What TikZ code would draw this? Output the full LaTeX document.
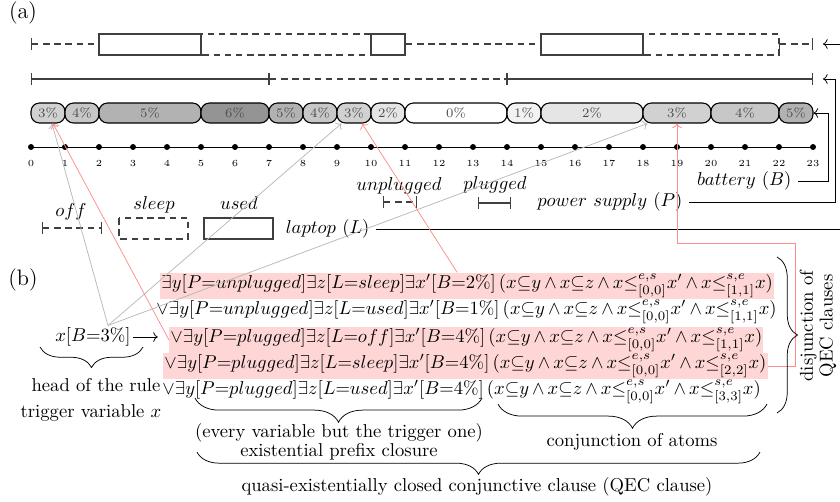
\documentclass[tikz,border=0pt]{standalone}
\usepackage{amsmath}
\usepackage{amssymb}
\usepackage{xcolor}
\usepackage{tikz}
\usetikzlibrary{calc,positioning,arrows.meta,decorations.pathreplacing}

\newcommand{\aand}{\,{\wedge}\,}

\tikzset{
  tl/.style={black!75,semithick},
  offline/.style={tl,dash pattern=on 3.5pt off 2.5pt,{Bar[width=6pt]}-{Bar[width=6pt]}},
  plugline/.style={tl,{Bar[width=6pt]}-{Bar[width=6pt]}},
  unplugline/.style={offline},
  usedbox/.style={tl},
  sleepbox/.style={tl,dash pattern=on 3.5pt off 2.5pt},
  battseg/.style={draw,semithick,rounded corners=4.5pt,minimum height=10.7pt,inner sep=0pt,font=\scriptsize,text=black!70},
  clause/.style={inner sep=0.6pt,anchor=west},
  pinkclause/.style={clause,fill=red!16},
  trigger/.style={->,thin,black!28},
  match/.style={->,thin,red!45},
  feed/.style={->,thin},
  curly/.style={thin,decorate,decoration={brace,amplitude=#1}},
}

\begin{document}
\begin{tikzpicture}[x=0.537pt,y=-0.537pt]
	\useasboundingbox (0,0) rectangle (840,502);
	\node[font=\large] (pa) at (23,13) {(a)};
	\node[font=\large] (pb) at (23,280) {(b)};

	% one day, hour h sits at x = 31 + 34 h
	\begin{scope}[shift={(31,0)},x=18.258pt]
		% laptop (L)
		\draw[sleepbox] (5,34) rectangle (10,55);
		\draw[sleepbox] (18,34) rectangle (22,55);
		\draw[usedbox] (2,34) rectangle (5,55);
		\draw[usedbox] (10,34) rectangle (11,55);
		\draw[usedbox] (15,34) rectangle (18,55);
		\draw[offline] (0,44) -- (2,44);
		\draw[offline] (11,44) -- (15,44);
		\draw[offline] (22,44) -- (23,44);
		% power supply (P)
		\draw[plugline] (0,79) -- (7,79);
		\draw[unplugline] (7,79) -- (14,79);
		\draw[plugline] (14,79) -- (23,79);
		% battery (B)
		\foreach \a/\b/\v/\g [count=\i from 0] in {0/1/3/18,1/2/4/22,2/5/5/30,5/7/6/42,7/8/5/30,8/9/4/22,9/10/3/18,
			10/11/2/10,11/14/0/0,14/15/1/5,15/18/2/10,18/20/3/18,20/22/4/22,22/23/5/30}{
			\pgfmathsetmacro{\w}{(\b-\a)*18.258}
			\node[battseg,fill=black!\g,minimum width=\w pt] (b\i) at ({(\a+\b)/2},113) {\v\%};
		}
		% hours
		\draw (0,147) -- (23,147);
		\foreach \h in {0,...,23}{
			\fill (\h,147) circle (1.6pt);
			\node[font=\tiny] (t\h) at (\h,163) {\h};
		}
	\end{scope}

	% legend
	\draw[offline] (42,228) -- (102,228);
	\node[anchor=base] (loff) at (71,216) {$off$};
	\draw[sleepbox] (119,218) rectangle (188,239);
	\node[anchor=base] (lsleep) at (154,209) {$sleep$};
	\draw[usedbox] (204,218) rectangle (273,239);
	\node[anchor=base] (lused) at (239,209) {$used$};
	\node[anchor=east] (lplbl) at (376,229) {$laptop\ (L)$};
	\draw[unplugline] (383,202) -- (417,202);
	\node (lunpl) at (399,186) {$unplugged$};
	\draw[plugline] (478,203) -- (511,203);
	\node (lpl) at (495,185) {$plugged$};
	\node[anchor=east] (pslbl) at (689,202) {$power\ supply\ (P)$};
	\node[anchor=east] (batlbl) at (798,181) {$battery\ (B)$};

	\coordinate (lend) at (823,44);
	\coordinate (pend) at (823,79);
	\draw[feed] (lplbl.east) -| ($(lend)+(27,0)$) -- (lend);
	\draw[feed] (pslbl.east) -| ($(pend)+(12,0)$) -- (pend);
	\draw[feed] (batlbl.east) -| ($(b13.east)+(15,0)$) -- (b13.east);

	% the rule
	\node[inner sep=1pt] (head) at (93,337) {$x[B{=}3\%]$};
	\node[pinkclause] (c1) at (160,286) {$\exists y[P{=}unplugged]\exists z[L{=}sleep]\exists x'[B{=}2\%]\,(x{\subseteq}y\aand x{\subseteq}z\aand x{\leq}^{e,s}_{[0,0]}x'\aand x{\leq}^{s,e}_{[1,1]}x)$};
	\node[clause] (c2) at (155,312) {${\vee}\exists y[P{=}unplugged]\exists z[L{=}used]\exists x'[B{=}1\%]\,(x{\subseteq}y\aand x{\subseteq}z\aand x{\leq}^{e,s}_{[0,0]}x'\aand x{\leq}^{s,e}_{[1,1]}x)$};
	\node[pinkclause] (c3) at (169,340) {${\vee}\exists y[P{=}plugged]\exists z[L{=}off]\exists x'[B{=}4\%]\,(x{\subseteq}y\aand x{\subseteq}z\aand x{\leq}^{e,s}_{[0,0]}x'\aand x{\leq}^{s,e}_{[1,1]}x)$};
	\node[pinkclause] (c4) at (163,366) {${\vee}\exists y[P{=}plugged]\exists z[L{=}sleep]\exists x'[B{=}4\%]\,(x{\subseteq}y\aand x{\subseteq}z\aand x{\leq}^{e,s}_{[0,0]}x'\aand x{\leq}^{s,e}_{[2,2]}x)$};
	\node[clause] (c5) at (161,392) {${\vee}\exists y[P{=}plugged]\exists z[L{=}used]\exists x'[B{=}4\%]\,(x{\subseteq}y\aand x{\subseteq}z\aand x{\leq}^{e,s}_{[0,0]}x'\aand x{\leq}^{s,e}_{[3,3]}x)$};
	\draw[->,shorten >=6pt] (head.east) -- (head.east -| c3.west);

	% where x, x' and the clauses sit on the day
	\draw[trigger] ($(head.north)+(15,0)$) -- ($(b0.south)+(4,0)$);
	\draw[trigger] ($(head.north)+(15,0)$) -- ($(b6.south west)+(5,0)$);
	\draw[trigger] ($(head.north)+(15,0)$) -- ($(b11.south west)+(5,0)$);
	\draw[match] (c3.west) -- ($(b0.south)+(5,0)$);
	\draw[match] ($(c1.north)+(-10,0)$) -- ($(b6.south)+(8,0)$);
	\coordinate (bend) at (795,243);
	\draw[match] (c4.east) -| (bend) -| (b11.south);

	% braces
	\draw[curly=11pt] (143,347) -- (40,347);
	\node (hd) at (96,385) {head of the rule};
	\node (tv) at (91,413) {trigger variable $x$};
	\draw[curly=13pt] (482,398) -- (195,398);
	\node[align=center] (ep) at (339,442) {(every variable but the trigger one)\\[-2pt]existential prefix closure};
	\draw[curly=13pt] (767,404) -- (498,404);
	\node (ca) at (632,442) {conjunction of atoms};
	\draw[curly=12pt] (760,452) -- (197,452);
	\node (qec) at (477,487) {quasi-existentially closed conjunctive clause (QEC clause)};
	\draw[curly=11pt] (777,257) -- (777,413);
	\node[rotate=90,align=center] (dq) at (818,326) {disjunction of\\[-1.5pt]QEC clauses};
\end{tikzpicture}
\end{document}
